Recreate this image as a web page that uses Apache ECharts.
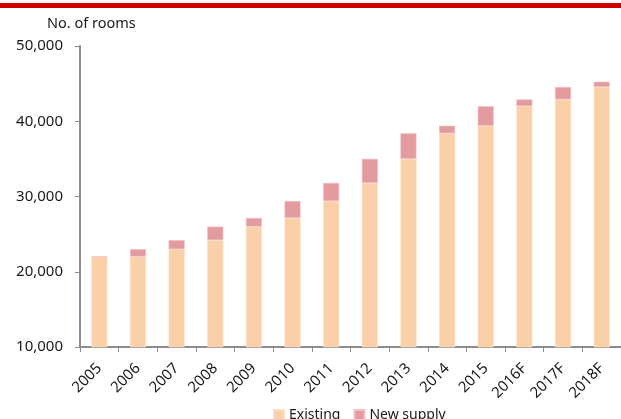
<!DOCTYPE html>
<html>
<head>
<meta charset="utf-8">
<script src="https://cdn.jsdelivr.net/npm/echarts@6/dist/echarts.min.js"></script>
<style>
  html, body { margin: 0; padding: 0; background: #fff; }
  #chart { width: 621px; height: 419px; }
</style>
</head>
<body>
<div id="chart"></div>
<script>
// Hotel room stock by year: existing rooms plus rooms added that year
const years = ['2005', '2006', '2007', '2008', '2009', '2010', '2011', '2012', '2013', '2014', '2015', '2016F', '2017F', '2018F'];
const existing = [22000, 22000, 23000, 24200, 26000, 27140, 29400, 31800, 35000, 38400, 39400, 42000, 42900, 44550];
const newSupply = [0, 1000, 1200, 1800, 1140, 2260, 2400, 3200, 3400, 1000, 2600, 900, 1650, 700];
const yTicks = [10000, 20000, 30000, 40000, 50000];

const FONT = '"Noto Sans", "Open Sans", sans-serif';
const AXIS_GREY = '#8c8c8c';
const TEXT = '#1a1a1a';

const chart = echarts.init(document.getElementById('chart'), null, { renderer: 'canvas' });

chart.setOption({
  animation: false,
  textStyle: { fontFamily: FONT, color: TEXT },
  graphic: [
    {
      type: 'rect',
      left: 0, top: 3,
      shape: { width: 621, height: 5 },
      style: { fill: '#d10000' }
    }
  ],
  title: {
    text: 'No. of rooms',
    left: 42, top: 11,
    textStyle: { fontFamily: FONT, fontSize: 14.5, fontWeight: 'normal', color: TEXT }
  },
  legend: {
    left: 268, top: 403,
    itemWidth: 10, itemHeight: 10,
    itemGap: 13,
    icon: 'rect',
    textStyle: { fontFamily: FONT, fontSize: 14, color: TEXT },
    data: ['Existing', 'New supply']
  },
  grid: { left: 80, top: 46, width: 552, height: 301 },
  xAxis: {
    type: 'category',
    data: years,
    axisLine: { lineStyle: { color: AXIS_GREY, width: 2 } },
    axisTick: { show: true, length: 5, lineStyle: { color: AXIS_GREY, width: 1 } },
    axisLabel: { rotate: 45, fontSize: 15, color: TEXT, margin: 19, fontFamily: FONT, interval: 0 }
  },
  yAxis: {
    type: 'value',
    min: yTicks[0],
    max: yTicks[yTicks.length - 1],
    interval: 10000,
    axisLine: { show: true, lineStyle: { color: AXIS_GREY, width: 2 } },
    axisTick: { show: true, length: 5, lineStyle: { color: AXIS_GREY, width: 1 } },
    splitLine: { show: false },
    axisLabel: {
      fontSize: 15, color: TEXT, margin: 17, fontFamily: FONT,
      formatter: v => v.toLocaleString('en-US')
    }
  },
  series: [
    {
      name: 'Existing',
      type: 'bar',
      stack: 'rooms',
      data: existing,
      barWidth: 16,
      itemStyle: { color: '#f9d0a8', borderColor: '#fbe0c6', borderWidth: 0.6 }
    },
    {
      name: 'New supply',
      type: 'bar',
      stack: 'rooms',
      data: newSupply,
      barWidth: 16,
      itemStyle: { color: '#e49ba0', borderColor: '#f0c0c3', borderWidth: 0.6 }
    }
  ]
});
</script>
</body>
</html>
